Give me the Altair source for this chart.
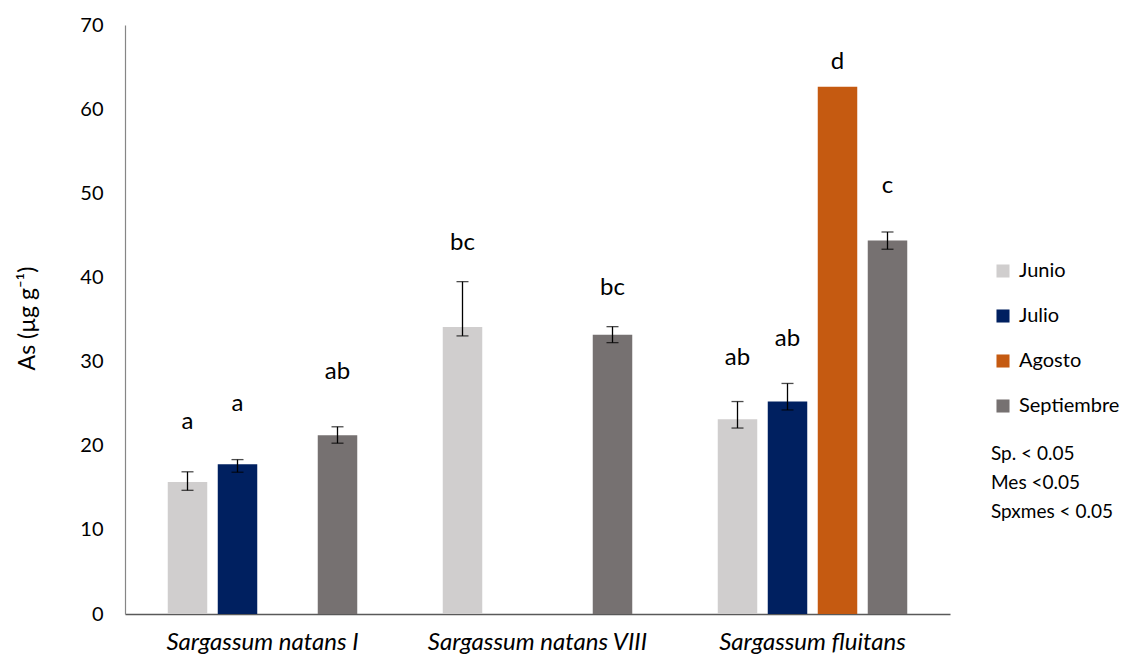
import altair as alt
import pandas as pd

species = ["Sargassum natans I", "Sargassum natans VIII", "Sargassum fluitans"]
months = ["Junio", "Julio", "Agosto", "Septiembre"]
colors = ["#D0CECE", "#002060", "#C55A11", "#767171"]

bar_species = [species[0], species[0], species[0],
               species[1], species[1],
               species[2], species[2], species[2], species[2]]
bar_month = ["Junio", "Julio", "Septiembre",
             "Junio", "Septiembre",
             "Junio", "Julio", "Agosto", "Septiembre"]
values = [15.7, 17.8, 21.25, 34.1, 33.2, 23.15, 25.25, 62.65, 44.4]
err_low = [14.7, 16.85, 20.3, 33.05, 32.25, 22.1, 24.25, None, 43.35]
err_high = [16.9, 18.35, 22.25, 39.5, 34.15, 25.25, 27.4, None, 45.4]
letters = ["a", "a", "ab", "bc", "bc", "ab", "ab", "d", "c"]
letter_y = [21.95, 24.16, 27.93, 43.26, 37.91, 29.59, 31.85, 64.74, 50.07]
stats_text = ["Sp. < 0.05", "Mes <0.05", "Spxmes < 0.05"]

df = pd.DataFrame({
    "species": bar_species,
    "month": bar_month,
    "value": values,
    "lo": err_low,
    "hi": err_high,
    "letter": letters,
    "ly": letter_y,
})
df_err = df.dropna(subset=["lo"])

FONT = "Lato"

x_enc = alt.X("species:N", sort=species, title=None,
              scale=alt.Scale(paddingInner=0, paddingOuter=0),
              axis=alt.Axis(labelFont=FONT, labelFontSize=24, labelFontStyle="italic",
                            labelColor="#000000", labelPadding=16, ticks=False,
                            labelLimit=0, domainColor="#595959", domainWidth=1.5,
                            labelAngle=0))
xo_enc = alt.XOffset("month:N", sort=months,
                     scale=alt.Scale(domain=months, paddingInner=0.21, paddingOuter=0.855))
y_scale = alt.Scale(domain=[0, 70], nice=False)

bars = alt.Chart(df).mark_bar().encode(
    x=x_enc,
    xOffset=xo_enc,
    y=alt.Y("value:Q", scale=y_scale, title="As (µg g⁻¹)",
            axis=alt.Axis(values=[0, 10, 20, 30, 40, 50, 60, 70], grid=False, ticks=False,
                          labelFont=FONT, labelFontSize=20, labelColor="#000000",
                          labelPadding=22, domainColor="#868686", domainWidth=1.2,
                          titleFont=FONT, titleFontSize=23, titleFontWeight="normal",
                          titleColor="#000000", titleX=-98, titleY=293, titleAngle=-90,
                          titleAlign="center", titleBaseline="middle")),
    color=alt.Color("month:N", sort=months,
                    scale=alt.Scale(domain=months, range=colors),
                    legend=alt.Legend(title=None, orient="none", legendX=868, legendY=236,
                                      symbolType="square", symbolSize=170,
                                      symbolStrokeWidth=0, labelFont=FONT, labelFontSize=20,
                                      labelColor="#000000", rowPadding=25, labelOffset=6,
                                      padding=0)),
)

rules = alt.Chart(df_err).mark_rule(color="#000000", strokeWidth=1.3).encode(
    x=alt.X("species:N", sort=species),
    xOffset=alt.XOffset("month:N", sort=months),
    y=alt.Y("lo:Q", scale=y_scale),
    y2="hi:Q",
)
caps_lo = alt.Chart(df_err).mark_tick(color="#000000", size=12, thickness=1.3).encode(
    x=alt.X("species:N", sort=species),
    xOffset=alt.XOffset("month:N", sort=months),
    y=alt.Y("lo:Q", scale=y_scale),
)
caps_hi = alt.Chart(df_err).mark_tick(color="#000000", size=12, thickness=1.3).encode(
    x=alt.X("species:N", sort=species),
    xOffset=alt.XOffset("month:N", sort=months),
    y=alt.Y("hi:Q", scale=y_scale),
)
labels = alt.Chart(df).mark_text(font=FONT, fontSize=24, color="#000000",
                                 baseline="alphabetic", align="center").encode(
    x=alt.X("species:N", sort=species),
    xOffset=alt.XOffset("month:N", sort=months),
    y=alt.Y("ly:Q", scale=y_scale),
    text="letter:N",
)
stats = alt.Chart(pd.DataFrame({"t": [stats_text]})).mark_text(
    font=FONT, fontSize=19, color="#000000", align="left", baseline="middle",
    lineHeight=29).encode(
    x=alt.value(866), y=alt.value(429), text="t")

chart = alt.layer(bars, rules, caps_lo, caps_hi, labels, stats).properties(
    width=825, height=589,
    padding={"left": 117, "top": 17, "right": 170, "bottom": 40},
    autosize=alt.AutoSizeParams(type="none"),
    background="#ffffff",
).configure_view(stroke=None)

chart.save("out.html", embed_options={"renderer": "svg", "actions": False})
